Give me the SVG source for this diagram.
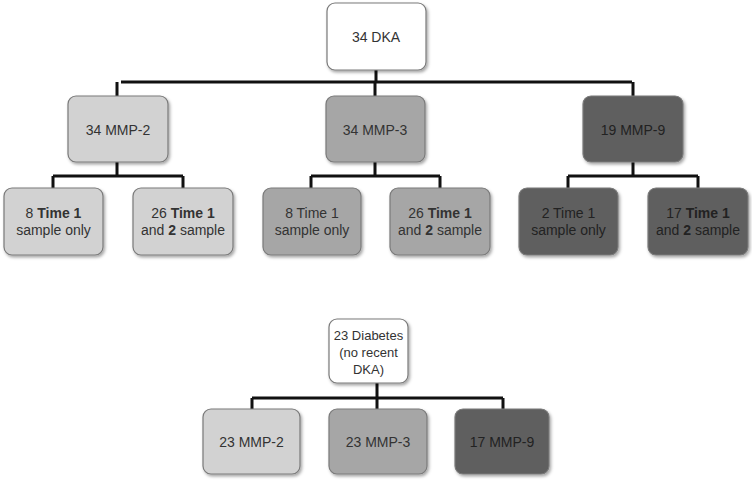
<svg xmlns="http://www.w3.org/2000/svg" width="752" height="480" viewBox="0 0 752 480">
<style>
.box{stroke:#7a7a7a;stroke-width:1.2;filter:url(#sh)}
.w{fill:#ffffff}
.l{fill:#d2d2d2}
.m{fill:#a6a6a6}
.d{fill:#5e5e5e}
text{font-family:"Liberation Sans",Arial,sans-serif;font-size:14px;fill:#333;text-anchor:middle}
.dt{fill:#222}
.s{font-size:13px}
.b{font-weight:bold}
.c{fill:none;stroke:#111;stroke-width:3}
</style>
<defs>
<filter id="sh" x="-10%" y="-10%" width="125%" height="130%">
<feDropShadow dx="1.5" dy="2" stdDeviation="1.5" flood-color="#000" flood-opacity="0.35"/>
</filter>
</defs>
<rect width="752" height="480" fill="#fff"/>
<g id="connectors">
<path class="c" d="M376 70V82M121 82H632M117 82V96M375 82V96M633 82V96"/>
<path class="c" d="M117 162V176M53 176H183M53 176V188M183 176V188"/>
<path class="c" d="M375 162V176M311 176H440M311 176V188M440 176V188"/>
<path class="c" d="M633 162V176M568 176H698M568 176V188M698 176V188"/>
<path class="c" d="M377 383V398M252 398H503M252 398V409M377 398V409M503 398V409"/>
</g>
<g id="n-dka"><rect class="box w" x="327" y="3" width="99" height="67" rx="8"/><text x="376" y="42">34 DKA</text></g>
<g id="n-mmp2"><rect class="box l" x="68" y="96" width="100" height="66" rx="8"/><text x="118" y="135">34 MMP-2</text></g>
<g id="n-mmp3"><rect class="box m" x="326" y="96" width="99" height="66" rx="8"/><text x="375" y="135">34 MMP-3</text></g>
<g id="n-mmp9"><rect class="box d" x="583" y="96" width="100" height="66" rx="8"/><text class="dt" x="633" y="135">19 MMP-9</text></g>
<g id="n-2a"><rect class="box l" x="4" y="188" width="99" height="67" rx="8"/><text x="53.5" y="218">8 <tspan class="b">Time 1</tspan></text><text x="53.5" y="235">sample only</text></g>
<g id="n-2b"><rect class="box l" x="133" y="188" width="100" height="67" rx="8"/><text x="183" y="218">26 <tspan class="b">Time 1</tspan></text><text x="183" y="235">and <tspan class="b">2</tspan> sample</text></g>
<g id="n-3a"><rect class="box m" x="263" y="188" width="98" height="67" rx="8"/><text x="312" y="218">8 Time 1</text><text x="312" y="235">sample only</text></g>
<g id="n-3b"><rect class="box m" x="390" y="188" width="100" height="67" rx="8"/><text x="440" y="218">26 <tspan class="b">Time 1</tspan></text><text x="440" y="235">and <tspan class="b">2</tspan> sample</text></g>
<g id="n-9a"><rect class="box d" x="519" y="188" width="99" height="67" rx="8"/><text class="dt" x="568.5" y="218">2 Time 1</text><text class="dt" x="568.5" y="235">sample only</text></g>
<g id="n-9b"><rect class="box d" x="648" y="188" width="100" height="67" rx="8"/><text class="dt" x="698" y="218">17 <tspan class="b">Time 1</tspan></text><text class="dt" x="698" y="235">and <tspan class="b">2</tspan> sample</text></g>
<g id="n-diab"><rect class="box w" x="329" y="319" width="79" height="64" rx="8"/><text class="s" x="368.5" y="340">23 Diabetes</text><text class="s" x="368.5" y="357">(no recent</text><text class="s" x="368.5" y="374">DKA)</text></g>
<g id="n-d2"><rect class="box l" x="203" y="409" width="97" height="65" rx="8"/><text x="251.5" y="447">23 MMP-2</text></g>
<g id="n-d3"><rect class="box m" x="329" y="409" width="98" height="65" rx="8"/><text x="378" y="447">23 MMP-3</text></g>
<g id="n-d9"><rect class="box d" x="455" y="409" width="94" height="65" rx="8"/><text class="dt" x="502" y="447">17 MMP-9</text></g>
</svg>
